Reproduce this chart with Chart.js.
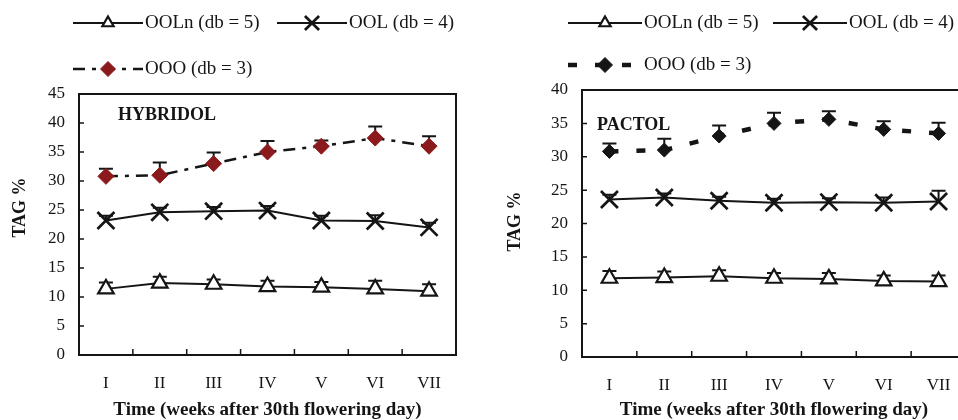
<!DOCTYPE html>
<html>
<head>
<meta charset="utf-8">
<script src="https://cdn.jsdelivr.net/npm/chart.js@4.4.0/dist/chart.umd.min.js"></script>
<style>
    html, body { margin: 0; padding: 0; background: #fff; }
    body { width: 958px; height: 420px; overflow: hidden; position: relative; }
    #leftBox { position: absolute; left: 0; top: 0; }
    #rightBox { position: absolute; left: 480px; top: 0; width: 478px; height: 420px; overflow: hidden; }
</style>
</head>
<body>
<div id="leftBox"><canvas id="hybridol" width="479" height="420"></canvas></div>
<div id="rightBox"><canvas id="pactol" width="520" height="420"></canvas></div>
<script>
// weeks after 30th flowering day
const weeks = ['I', 'II', 'III', 'IV', 'V', 'VI', 'VII'];
const seriesNames = ['OOLn (db = 5)', 'OOL (db = 4)', 'OOO (db = 3)'];

// HYBRIDOL (values and upper error bars, TAG %)
const hybOOLn = [11.4, 12.4, 12.2, 11.8, 11.7, 11.4, 11.0];
const hybOOLnErr = [1.1, 1.1, 0.8, 1.0, 0.9, 1.4, 1.2];
const hybOOL = [23.2, 24.6, 24.8, 24.9, 23.2, 23.1, 22.0];
const hybOOLErr = [0.8, 0.8, 0.7, 0.8, 0.8, 1.0, 0.8];
const hybOOO = [30.8, 31.0, 33.0, 35.0, 36.0, 37.4, 36.0];
const hybOOOErr = [1.3, 2.2, 1.9, 1.9, 1.0, 2.0, 1.7];

// PACTOL
const pacOOLn = [11.8, 11.9, 12.1, 11.8, 11.7, 11.4, 11.3];
const pacOOLnErr = [1.1, 0.9, 0.9, 0.8, 0.9, 0.8, 0.9];
const pacOOL = [23.6, 23.9, 23.4, 23.1, 23.2, 23.1, 23.3];
const pacOOLErr = [0.7, 0.6, 0.6, 0.6, 0.6, 0.8, 1.6];
const pacOOO = [30.8, 31.0, 33.1, 35.0, 35.6, 34.1, 33.5];
const pacOOOErr = [1.2, 1.7, 1.6, 1.6, 1.2, 1.2, 1.6];

const hybMax = 45;
const pacMax = 40;
const tickStep = 5;
const xTitle = 'Time (weeks after 30th flowering day)';
const yTitle = 'TAG %';

const serif = "'Liberation Serif', 'Times New Roman', serif";
const ink = '#151515';

function markerPath(ctx, style, x, y, r) {
    ctx.beginPath();
    if (style === 'triangle') {
        for (let k = 0; k < 3; k++) {
            const a = k * 2 * Math.PI / 3;
            const px = x + Math.sin(a) * r, py = y - Math.cos(a) * r;
            k === 0 ? ctx.moveTo(px, py) : ctx.lineTo(px, py);
        }
        ctx.closePath();
    } else if (style === 'crossRot') {
        const o = Math.SQRT1_2 * r;
        ctx.moveTo(x - o, y - o); ctx.lineTo(x + o, y + o);
        ctx.moveTo(x + o, y - o); ctx.lineTo(x - o, y + o);
    } else {
        ctx.moveTo(x - r, y); ctx.lineTo(x, y - r);
        ctx.lineTo(x + r, y); ctx.lineTo(x, y + r);
        ctx.closePath();
    }
}

const decor = {
    id: 'decor',
    beforeDatasetsDraw(chart) {
        // upper error bars
        const ctx = chart.ctx;
        const yScale = chart.scales.y;
        ctx.save();
        ctx.strokeStyle = ink;
        ctx.lineWidth = 2;
        chart.data.datasets.forEach((ds, i) => {
            chart.getDatasetMeta(i).data.forEach((pt, j) => {
                const top = yScale.getPixelForValue(ds.data[j] + ds.errUp[j]);
                ctx.beginPath();
                ctx.moveTo(pt.x, pt.y);
                ctx.lineTo(pt.x, top);
                ctx.moveTo(pt.x - 7, top);
                ctx.lineTo(pt.x + 7, top);
                ctx.stroke();
            });
        });
        ctx.restore();
    },
    afterDraw(chart, args, opts) {
        const ctx = chart.ctx;
        const area = chart.chartArea;
        const xScale = chart.scales.x;
        const yScale = chart.scales.y;
        ctx.save();

        // frame (right side only when it is inside the picture)
        ctx.strokeStyle = ink;
        ctx.lineWidth = 2;
        ctx.beginPath();
        ctx.moveTo(area.right + 1, area.top);
        ctx.lineTo(area.left, area.top);
        ctx.lineTo(area.left, area.bottom);
        ctx.lineTo(area.right + 1, area.bottom);
        if (opts.frameRight) {
            ctx.moveTo(area.right, area.top);
            ctx.lineTo(area.right, area.bottom);
        }
        ctx.stroke();

        // inward tick marks
        ctx.lineWidth = 1.5;
        ctx.beginPath();
        yScale.ticks.forEach(t => {
            if (t.value <= yScale.min || t.value >= yScale.max) return;
            const py = yScale.getPixelForValue(t.value);
            ctx.moveTo(area.left, py);
            ctx.lineTo(area.left + 5, py);
        });
        for (let i = 0; i < weeks.length - 1; i++) {
            const px = (xScale.getPixelForValue(i) + xScale.getPixelForValue(i + 1)) / 2;
            ctx.moveTo(px, area.bottom);
            ctx.lineTo(px, area.bottom - 6);
        }
        ctx.stroke();

        ctx.fillStyle = ink;
        ctx.textBaseline = 'middle';

        // y axis title
        ctx.save();
        ctx.font = 'bold 18px ' + serif;
        ctx.textAlign = 'center';
        ctx.translate(opts.yTitleX, (area.top + area.bottom) / 2 + opts.yTitleDy);
        ctx.rotate(-Math.PI / 2);
        ctx.fillText(yTitle, 0, 0);
        ctx.restore();

        // panel name
        ctx.font = 'bold 18px ' + serif;
        ctx.textAlign = 'left';
        ctx.fillText(opts.label, area.left + opts.labelDx, area.top + opts.labelDy);

        // legend
        ctx.font = '19px ' + serif;
        chart.data.datasets.forEach((ds, i) => {
            const slot = opts.slots[i];
            const x0 = opts.legendX + slot[0] * opts.colGap;
            const y0 = opts.rows[slot[1]];
            const x1 = x0 + opts.lineLen;
            ctx.save();
            ctx.strokeStyle = ds.borderColor;
            ctx.lineWidth = ds.borderWidth;
            ctx.setLineDash(ds.borderDash || []);
            ctx.beginPath();
            ctx.moveTo(x0, y0);
            ctx.lineTo(x1, y0);
            ctx.stroke();
            ctx.restore();

            ctx.save();
            ctx.fillStyle = ds.pointBackgroundColor;
            ctx.strokeStyle = ds.pointBorderColor;
            ctx.lineWidth = ds.pointBorderWidth;
            markerPath(ctx, ds.pointStyle, (x0 + x1) / 2, y0, opts.legendRadius[i]);
            if (ds.pointStyle !== 'crossRot') ctx.fill();
            ctx.stroke();
            ctx.restore();

            ctx.fillStyle = ink;
            ctx.fillText(ds.label, x1 + 2, y0);
        });
        ctx.restore();
    }
};

function makeDatasets(values, errors, oooStyle) {
    return [
        {
            label: seriesNames[0], data: values[0], errUp: errors[0],
            borderColor: ink, borderWidth: 2,
            pointStyle: 'triangle', pointRadius: 9,
            pointBackgroundColor: '#fff', pointBorderColor: ink, pointBorderWidth: 2.2
        },
        {
            label: seriesNames[1], data: values[1], errUp: errors[1],
            borderColor: ink, borderWidth: 2,
            pointStyle: 'crossRot', pointRadius: 12,
            pointBackgroundColor: ink, pointBorderColor: ink, pointBorderWidth: 2.7
        },
        Object.assign({
            label: seriesNames[2], data: values[2], errUp: errors[2],
            borderColor: ink, pointStyle: 'rectRot'
        }, oooStyle)
    ];
}

function makeChart(canvasId, datasets, yMax, layout, decorOpts) {
    return new Chart(document.getElementById(canvasId), {
        type: 'line',
        data: { labels: weeks, datasets },
        plugins: [decor],
        options: {
            responsive: false,
            animation: false,
            devicePixelRatio: 1,
            layout: { padding: { top: layout.top, right: layout.right, left: 0, bottom: 0 } },
            plugins: {
                legend: { display: false },
                tooltip: { enabled: false },
                decor: decorOpts
            },
            scales: {
                x: {
                    type: 'category',
                    offset: true,
                    grid: { display: false },
                    border: { display: false },
                    ticks: { color: ink, padding: 10, font: { family: serif, size: 17 } },
                    title: {
                        display: true,
                        text: xTitle,
                        color: ink,
                        padding: 0,
                        font: { family: serif, size: 19, weight: 'bold', lineHeight: 1 }
                    },
                    afterFit: s => { s.height = layout.xHeight; }
                },
                y: {
                    min: 0,
                    max: yMax,
                    grid: { display: false },
                    border: { display: false },
                    ticks: { stepSize: tickStep, color: ink, padding: 6, font: { family: serif, size: 17 } },
                    afterFit: s => { s.width = layout.yWidth; }
                }
            }
        }
    });
}

makeChart('hybridol',
    makeDatasets([hybOOLn, hybOOL, hybOOO], [hybOOLnErr, hybOOLErr, hybOOOErr], {
        borderWidth: 2.5, borderDash: [12, 7, 4, 7],
        pointRadius: 8, pointBackgroundColor: '#8b1a1c', pointBorderColor: '#8b1a1c', pointBorderWidth: 1
    }),
    hybMax,
    { top: 94, right: 23, xHeight: 65, yWidth: 79 },
    {
        label: 'HYBRIDOL', labelDx: 39, labelDy: 21, frameRight: true,
        yTitleX: 20, yTitleDy: -17,
        legendX: 73, lineLen: 70, colGap: 204, rows: [23, 69],
        slots: [[0, 0], [1, 0], [0, 1]], legendRadius: [6.5, 10, 7.5]
    });

makeChart('pactol',
    makeDatasets([pacOOLn, pacOOL, pacOOO], [pacOOLnErr, pacOOLErr, pacOOOErr], {
        borderWidth: 4.5, borderDash: [9, 18],
        pointRadius: 7, pointBackgroundColor: ink, pointBorderColor: ink, pointBorderWidth: 1
    }),
    pacMax,
    { top: 90, right: 34, xHeight: 63, yWidth: 102 },
    {
        label: 'PACTOL', labelDx: 15, labelDy: 35, frameRight: false,
        yTitleX: 35, yTitleDy: -2,
        legendX: 88, lineLen: 74, colGap: 205, rows: [23, 65],
        slots: [[0, 0], [1, 0], [0, 1]], legendRadius: [6.5, 10, 7.5]
    });
</script>
</body>
</html>
